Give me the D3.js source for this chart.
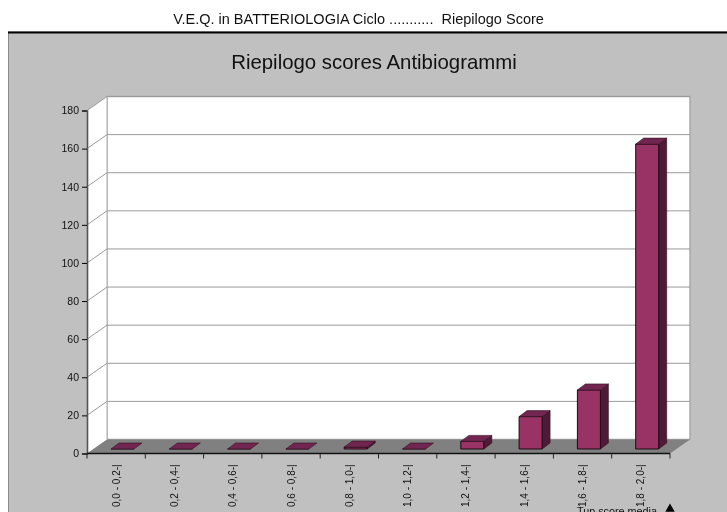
<!DOCTYPE html>
<html><head><meta charset="utf-8">
<script src="https://cdn.jsdelivr.net/npm/d3@7/dist/d3.min.js"></script>
<style>html,body{margin:0;padding:0;background:#fff;overflow:hidden}svg{display:block;filter:blur(0.35px)}text{font-family:"Liberation Sans",Arial,sans-serif;fill:#111}</style>
</head><body><div id="c"></div>
<script>
const categories=["0,0 - 0,2-|","0,2 - 0,4-|","0,4 - 0,6-|","0,6 - 0,8-|","0,8 - 1,0-|","1,0 - 1,2-|","1,2 - 1,4-|","1,4 - 1,6-|","1,6 - 1,8-|","1,8 - 2,0-|"];
const values=[0,0,0,0,1,0,4,17,31,160];
const yTicks=[0,20,40,60,80,100,120,140,160,180];
const pageTitle="V.E.Q. in BATTERIOLOGIA Ciclo ...........  Riepilogo Score";
const chartTitle="Riepilogo scores Antibiogrammi";
const footerLabel="Tup score media";

const W=727,H=512,dx=20,dy=-14;
const svg=d3.select("#c").append("svg").attr("width",W).attr("height",H);
const x=d3.scaleBand().domain(categories).range([87,670]).paddingInner(0).paddingOuter(0);
const y=d3.scaleLinear().domain([0,180]).range([453.5,110.5]);
const line=d3.line();
const poly=(pts,fill,stroke,sw)=>svg.append("polygon").attr("points",pts.map(p=>p.join(",")).join(" ")).attr("fill",fill).attr("stroke",stroke||"none").attr("stroke-width",sw||0);

svg.append("text").attr("x",358.5).attr("y",23.5).attr("text-anchor","middle").attr("font-size",14.5).style("white-space","pre").text(pageTitle);
svg.append("rect").attr("x",8.5).attr("y",32).attr("width",W).attr("height",H).attr("fill","#c0c0c0").attr("stroke","#8a8a8a");
svg.append("line").attr("x1",8).attr("x2",W).attr("y1",32.5).attr("y2",32.5).attr("stroke","#000").attr("stroke-width",2);
svg.append("text").attr("x",374).attr("y",69).attr("text-anchor","middle").attr("font-size",20.4).text(chartTitle);

const [x0,x1]=x.range(),[y0,y1]=[y(0),y(180)];
poly([[x0+dx,y1+dy],[x1+dx,y1+dy],[x1+dx,y0+dy],[x0+dx,y0+dy]],"#fff","#a6a6a6",1.4);
poly([[x0,y1],[x0+dx,y1+dy],[x0+dx,y0+dy],[x0,y0]],"#fff","none");
poly([[x0,y0],[x1,y0],[x1+dx,y0+dy],[x0+dx,y0+dy]],"#808080");
svg.append("line").attr("x1",x0+dx).attr("x2",x0+dx).attr("y1",y1+dy).attr("y2",y0+dy).attr("stroke","#b0b0b0");
svg.append("g").selectAll("path").data(yTicks.filter(d=>d>0)).join("path")
 .attr("fill","none").attr("stroke","#9a9a9a").attr("stroke-width",1)
 .attr("d",d=>line([[x0,y(d)],[x0+dx,y(d)+dy],[x1+dx,y(d)+dy]]));
const ay=svg.append("g").attr("transform",`translate(${x0},0)`).call(d3.axisLeft(y).tickValues(yTicks).tickSize(5).tickPadding(3));
ay.select(".domain").attr("stroke","#555").attr("stroke-width",1.6);
ay.selectAll("text").attr("font-size",10.5).style("font-family",'"Liberation Sans",Arial,sans-serif');
svg.append("line").attr("x1",x0).attr("x2",x1).attr("y1",y0).attr("y2",y0).attr("stroke","#111").attr("stroke-width",1.4);
svg.append("g").selectAll("line").data(d3.range(categories.length+1)).join("line")
 .attr("x1",i=>x0+i*x.bandwidth()).attr("x2",i=>x0+i*x.bandwidth()).attr("y1",y0).attr("y2",y0+5).attr("stroke","#222");
svg.append("g").selectAll("text").data(categories).join("text")
 .attr("transform",d=>`translate(${x(d)+x.bandwidth()/2},507) rotate(-90)`)
 .attr("font-size",10).attr("dy","0.35em").text(d=>d);
svg.append("text").attr("x",577).attr("y",514.5).attr("font-size",10.8).text(footerLabel);
svg.append("path").attr("d",d3.symbol(d3.symbolTriangle,38)()).attr("transform","translate(670,509)").attr("fill","#000");
const bw=23,bdx=8,bdy=-6,fx=24,fy=-4.5;
categories.forEach((c,i)=>{
 const l=x(c)+fx,r=l+bw,b=y(0)+fy,t=y(values[i])+fy;
 if(values[i]>0){
  poly([[r,b],[r+bdx,b+bdy],[r+bdx,t+bdy],[r,t]],"#4f1a38","#33111f",0.6);
  poly([[l,t],[r,t],[r,b],[l,b]],"#993366","#1a0a12",1);
 } else {
  svg.append("line").attr("x1",l).attr("x2",r).attr("y1",b).attr("y2",b).attr("stroke","#1a0a12");
 }
 poly([[l,t],[r,t],[r+bdx,t+bdy],[l+bdx,t+bdy]],"#702650","#33111f",0.6);
});
</script></body></html>
